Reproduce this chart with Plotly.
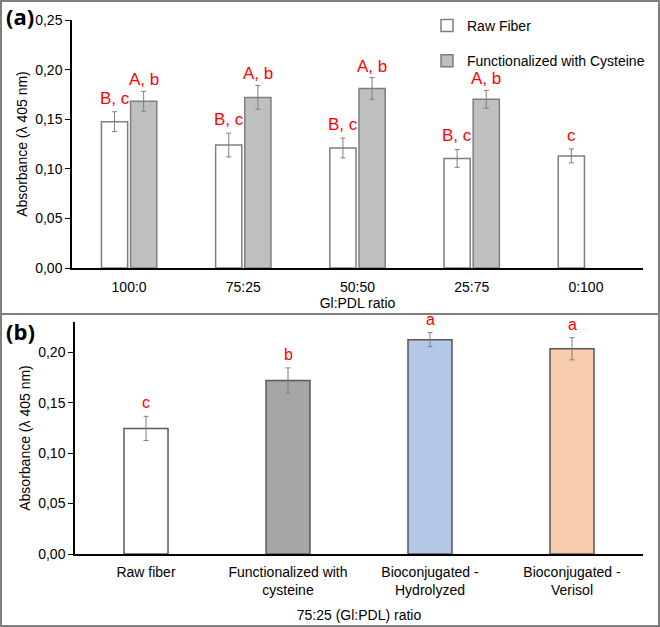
import plotly.graph_objects as go

# ---- Panel (a) data ----
ratios_a = ["100:0", "75:25", "50:50", "25:75", "0:100"]
raw_a = [0.1475, 0.124, 0.121, 0.1105, 0.113]
raw_a_err = [0.010, 0.012, 0.010, 0.009, 0.007]
cys_a = [0.168, 0.172, 0.181, 0.170, None]
cys_a_err = [0.010, 0.012, 0.011, 0.009, None]
raw_a_letters = ["B, c", "B, c", "B, c", "B, c", "c"]
cys_a_letters = ["A, b", "A, b", "A, b", "A, b", ""]

# ---- Panel (b) data ----
cats_b = ["Raw fiber", "Functionalized with<br>cysteine", "Bioconjugated -<br>Hydrolyzed", "Bioconjugated -<br>Verisol"]
vals_b = [0.1245, 0.172, 0.2125, 0.2035]
err_b = [0.012, 0.0125, 0.007, 0.011]
letters_b = ["c", "b", "a", "a"]
colors_b = ["#ffffff", "#a6a6a6", "#b4c7e7", "#f8cbad"]

FONT = "Liberation Sans, Arial, sans-serif"
W, H = 660, 627
def px(x): return x / W
def py(y): return 1 - y / H

fig = go.Figure()
xa = list(range(len(ratios_a)))
bargap_a = 0.49
slot = (1 - bargap_a) / 2

fig.add_trace(go.Bar(x=xa, y=raw_a, name="Raw Fiber", marker=dict(color="#ffffff", line=dict(color="#7f7f7f", width=1.5)),
                     error_y=dict(type="data", array=raw_a_err, color="#7f7f7f", thickness=1, width=2.5),
                     xaxis="x", yaxis="y", legendgroup="g1"))
fig.add_trace(go.Bar(x=xa, y=cys_a, name="Functionalized with Cysteine", marker=dict(color="#bfbfbf", line=dict(color="#7f7f7f", width=1.5)),
                     error_y=dict(type="data", array=cys_a_err, color="#7f7f7f", thickness=1, width=2.5),
                     xaxis="x", yaxis="y", legendgroup="g2"))

xb = list(range(len(cats_b)))
fig.add_trace(go.Bar(x=xb, y=vals_b, marker=dict(color=colors_b, line=dict(color="#595959", width=1.5)),
                     error_y=dict(type="data", array=err_b, color="#7f7f7f", thickness=1, width=2.5),
                     width=0.31, showlegend=False, xaxis="x2", yaxis="y2"))

annotations = []
for i in xa:
    if raw_a_letters[i]:
        annotations.append(dict(x=i - slot / 2, y=raw_a[i] + raw_a_err[i], xref="x", yref="y", text=raw_a_letters[i],
                                showarrow=False, yanchor="bottom", yshift=2, font=dict(color="#ff0000", size=17, family=FONT)))
    if cys_a_letters[i]:
        annotations.append(dict(x=i + slot / 2, y=cys_a[i] + cys_a_err[i], xref="x", yref="y", text=cys_a_letters[i],
                                showarrow=False, yanchor="bottom", yshift=0, font=dict(color="#ff0000", size=17, family=FONT)))
for i in xb:
    annotations.append(dict(x=i, y=vals_b[i] + err_b[i], xref="x2", yref="y2", text=letters_b[i],
                            showarrow=False, yanchor="bottom", yshift=3, font=dict(color="#ff0000", size=16, family=FONT)))

annotations.append(dict(x=px(4), y=py(16), xref="paper", yref="paper", text="<b>(a)</b>", showarrow=False,
                        xanchor="left", yanchor="middle", font=dict(size=22, color="#000", family="Open Sans, sans-serif")))
annotations.append(dict(x=px(4), y=py(331), xref="paper", yref="paper", text="<b>(b)</b>", showarrow=False,
                        xanchor="left", yanchor="middle", font=dict(size=22, color="#000", family="Open Sans, sans-serif")))

axis_common = dict(showline=True, linecolor="#000", linewidth=1.5, showgrid=False, zeroline=False, automargin=False,
                   tickfont=dict(size=14, color="#000", family=FONT))

fig.update_layout(
    width=W, height=H, margin=dict(l=0, r=0, t=0, b=0),
    paper_bgcolor="white", plot_bgcolor="white",
    separators=",.",
    barmode="group", bargap=bargap_a, bargroupgap=0.1,
    font=dict(family=FONT, color="#000"),
    xaxis=dict(axis_common, domain=[px(72), px(643)], anchor="y", tickvals=xa, ticktext=ratios_a,
               range=[-0.5, len(xa) - 0.5], ticks="", ticklabelstandoff=5,
               title=dict(text="Gl:PDL ratio", font=dict(size=14), standoff=2)),
    yaxis=dict(axis_common, domain=[py(268), py(20)], anchor="x", range=[0, 0.25], dtick=0.05, tickformat=".2f",
               ticks="outside", ticklen=5, tickcolor="#000",
               title=dict(text="Absorbance (λ 405 nm)", font=dict(size=14), standoff=4)),
    xaxis2=dict(axis_common, domain=[px(75), px(643)], anchor="y2", tickvals=xb, ticktext=cats_b,
                range=[-0.5, len(xb) - 0.5], ticks="", ticklabelstandoff=4,
                title=dict(text="75:25 (Gl:PDL) ratio", font=dict(size=14), standoff=13)),
    yaxis2=dict(axis_common, domain=[py(554), py(322)], anchor="x2", range=[0, 0.23], dtick=0.05, tickformat=".2f",
                ticks="outside", ticklen=5, tickcolor="#000",
                title=dict(text="Absorbance (λ 405 nm)", font=dict(size=14), standoff=4)),
    legend=dict(x=px(427), y=1 - 10 / H, xanchor="left", yanchor="top", font=dict(size=14, family=FONT),
                traceorder="grouped", tracegroupgap=14, bgcolor="rgba(0,0,0,0)"),
    annotations=annotations,
    shapes=[
        dict(type="rect", xref="paper", yref="paper", x0=px(1), x1=px(659), y0=py(626), y1=py(1),
             line=dict(color="#7f7f7f", width=2)),
        dict(type="line", xref="paper", yref="paper", x0=px(1), x1=px(659), y0=py(314), y1=py(314),
             line=dict(color="#7f7f7f", width=2)),
    ],
)

fig.write_html("out.html", config={"displayModeBar": False},
               post_script="document.body.style.margin='0';document.body.style.overflow='hidden';")
